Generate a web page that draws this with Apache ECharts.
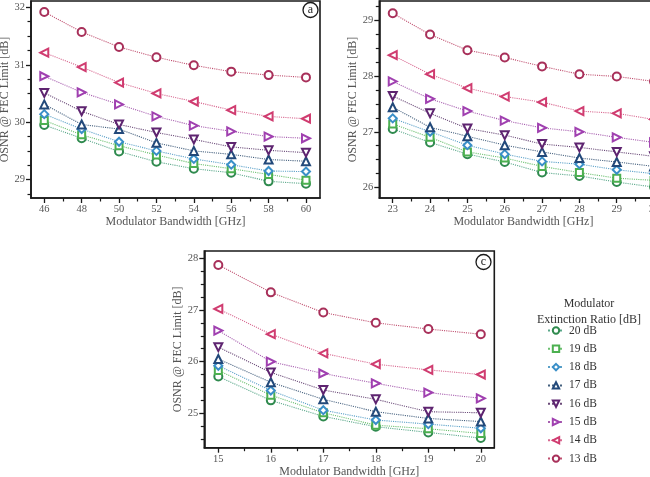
<!DOCTYPE html>
<html><head><meta charset="utf-8">
<script src="https://cdn.jsdelivr.net/npm/echarts@6/dist/echarts.min.js"></script>
<style>html,body{margin:0;padding:0;background:#fff}#c{width:650px;height:477px}</style>
</head><body><div id="c"></div>
<script>
// Legend / series names (Modulator extinction ratio)
const ratioNames = ['20 dB','19 dB','18 dB','17 dB','16 dB','15 dB','14 dB','13 dB'];

// Modulator bandwidth [GHz] per panel
const bwA = [46,48,50,52,54,56,58,60];
const bwB = [23,24,25,26,27,28,29,30];
const bwC = [15,16,17,18,19,20];

// Panel (a): OSNR @ FEC limit [dB]
const osnrA_20 = [29.95,29.72,29.49,29.31,29.19,29.12,28.97,28.93];
const osnrA_19 = [30.03,29.78,29.59,29.43,29.28,29.19,29.09,28.99];
const osnrA_18 = [30.14,29.88,29.66,29.50,29.36,29.26,29.15,29.14];
const osnrA_17 = [30.31,29.96,29.88,29.64,29.50,29.44,29.35,29.32];
const osnrA_16 = [30.51,30.19,29.96,29.82,29.70,29.57,29.51,29.47];
const osnrA_15 = [30.80,30.52,30.31,30.10,29.94,29.84,29.75,29.72];
const osnrA_14 = [31.21,30.96,30.69,30.50,30.36,30.21,30.10,30.06];
const osnrA_13 = [31.92,31.57,31.31,31.13,30.99,30.88,30.82,30.78];

// Panel (b)
const osnrB_20 = [27.05,26.81,26.60,26.46,26.27,26.21,26.10,26.01];
const osnrB_19 = [27.14,26.90,26.64,26.53,26.38,26.27,26.17,26.13];
const osnrB_18 = [27.24,27.00,26.76,26.60,26.47,26.42,26.32,26.25];
const osnrB_17 = [27.44,27.08,26.92,26.76,26.64,26.53,26.46,26.38];
const osnrB_16 = [27.64,27.33,27.06,26.94,26.78,26.72,26.64,26.56];
const osnrB_15 = [27.90,27.59,27.37,27.20,27.07,27.00,26.90,26.81];
const osnrB_14 = [28.37,28.03,27.78,27.63,27.53,27.37,27.33,27.22];
const osnrB_13 = [29.12,28.74,28.46,28.33,28.17,28.03,27.99,27.90];

// Panel (c)
const osnrC_20 = [25.71,25.25,24.94,24.74,24.63,24.52];
const osnrC_19 = [25.83,25.35,25.01,24.77,24.70,24.61];
const osnrC_18 = [25.92,25.44,25.06,24.87,24.79,24.71];
const osnrC_17 = [26.05,25.60,25.27,25.03,24.90,24.84];
const osnrC_16 = [26.28,25.79,25.45,25.27,25.03,25.01];
const osnrC_15 = [26.60,26.00,25.77,25.58,25.40,25.29];
const osnrC_14 = [27.02,26.53,26.16,25.95,25.84,25.75];
const osnrC_13 = [27.87,27.34,26.95,26.75,26.63,26.53];

// Tick labels
const ticksAX = [46,48,50,52,54,56,58,60];
const minorAX = [47,49,51,53,55,57,59];
const ticksAY = [29,30,31,32];
const minorAY = [28.75,29.25,29.5,29.75,30.25,30.5,30.75,31.25,31.5,31.75];
const ticksBX = [23,24,25,26,27,28,29,30];
const minorBX = [23.5,24.5,25.5,26.5,27.5,28.5,29.5];
const ticksBY = [26,27,28,29];
const minorBY = [26.25,26.5,26.75,27.25,27.5,27.75,28.25,28.5,28.75,29.25];
const ticksCX = [15,16,17,18,19,20];
const minorCX = [15.5,16.5,17.5,18.5,19.5];
const ticksCY = [25,26,27,28];
const minorCY = [24.5,24.75,25.25,25.5,25.75,26.25,26.5,26.75,27.25,27.5,27.75];

const panelA = [osnrA_20,osnrA_19,osnrA_18,osnrA_17,osnrA_16,osnrA_15,osnrA_14,osnrA_13];
const panelB = [osnrB_20,osnrB_19,osnrB_18,osnrB_17,osnrB_16,osnrB_15,osnrB_14,osnrB_13];
const panelC = [osnrC_20,osnrC_19,osnrC_18,osnrC_17,osnrC_16,osnrC_15,osnrC_14,osnrC_13];

const FONT = '"Liberation Serif","DejaVu Serif",serif';
const markerColors = ['#2f8a4e','#4cb050','#3a8fc8','#22497a','#5e2470','#a040b0','#d03c70','#a8305a'];
const lineColors   = ['#5aa88a','#6cc070','#5aa0c8','#45607e','#6a4a78','#a860b0','#d86890','#c05070'];
const symbols = ['emptyCircle','emptyRect','emptyDiamond','emptyTriangle','emptyTriangle','emptyTriangle','emptyTriangle','emptyCircle'];
const rotations = [0,0,0,0,180,-90,90,0];
const symSizes = [8,7,8,8,8,8,8,8];

const grids = [
  {left:31, top:1, width:289, height:197},
  {left:379.3, top:1, width:288.2, height:197},
  {left:204.3, top:251, width:290, height:196.7}
].map(g => Object.assign({show:true, borderColor:'#1a1a1a', borderWidth:1.6, backgroundColor:'transparent',
  containLabel:false, outerBoundsMode:'none'}, g));

const ranges = [
  {x:[45.29,60.75], y:[28.68,32.11], tx:ticksAX, mx:minorAX, ty:ticksAY, my:minorAY, bw:bwA, data:panelA},
  {x:[22.64,30.36], y:[25.815,29.34], tx:ticksBX, mx:minorBX, ty:ticksBY, my:minorBY, bw:bwB, data:panelB},
  {x:[14.733,20.257], y:[24.334,28.14], tx:ticksCX, mx:minorCX, ty:ticksCY, my:minorCY, bw:bwC, data:panelC}
];

const xAxes = [], yAxes = [], series = [];
ranges.forEach((r, gi) => {
  const xi = xAxes.length, yi = yAxes.length;
  xAxes.push({
    type:'value', gridIndex:gi, min:r.x[0], max:r.x[1], position:'bottom',
    axisLine:{show:true, onZero:false, lineStyle:{color:'#1a1a1a', width:1.6}},
    axisTick:{show:true, inside:false, length:5, customValues:r.tx, lineStyle:{color:'#1a1a1a', width:1.3}},
    axisLabel:{customValues:r.tx, margin:6, fontFamily:FONT, fontSize:10.5, color:'#555'},
    splitLine:{show:false},
    name:'Modulator Bandwidth [GHz]', nameLocation:'middle', nameGap:16,
    nameTextStyle:{fontFamily:FONT, fontSize:12, color:'#555'}
  });
  xAxes.push({
    type:'value', gridIndex:gi, min:r.x[0], max:r.x[1], position:'bottom',
    axisLine:{show:false, onZero:false},
    axisTick:{show:true, inside:false, length:3.5, customValues:r.mx, lineStyle:{color:'#1a1a1a', width:1.2}},
    axisLabel:{show:false, customValues:r.mx}, splitLine:{show:false}
  });
  yAxes.push({
    type:'value', gridIndex:gi, min:r.y[0], max:r.y[1], position:'left',
    axisLine:{show:true, onZero:false, lineStyle:{color:'#1a1a1a', width:1.6}},
    axisTick:{show:true, inside:false, length:5, customValues:r.ty, lineStyle:{color:'#1a1a1a', width:1.3}},
    axisLabel:{customValues:r.ty, margin:6, fontFamily:FONT, fontSize:10.5, color:'#555'},
    splitLine:{show:false},
    name:'OSNR @ FEC Limit [dB]', nameLocation:'middle', nameGap:17, nameRotate:90,
    nameTextStyle:{fontFamily:FONT, fontSize:12, color:'#555'}
  });
  yAxes.push({
    type:'value', gridIndex:gi, min:r.y[0], max:r.y[1], position:'left',
    axisLine:{show:false, onZero:false},
    axisTick:{show:true, inside:false, length:3.5, customValues:r.my, lineStyle:{color:'#1a1a1a', width:1.2}},
    axisLabel:{show:false, customValues:r.my}, splitLine:{show:false}
  });
  r.data.forEach((vals, si) => {
    series.push({
      type:'line', name:ratioNames[si], xAxisIndex:xi, yAxisIndex:yi,
      data:r.bw.map((b,k) => [b, vals[k]]),
      symbol:symbols[si], symbolRotate:rotations[si], symbolSize:symSizes[si],
      showAllSymbol:true, clip:true, silent:true, animation:false,
      lineStyle:{type:'dotted', width:1.1, color:lineColors[si]},
      itemStyle:{color:markerColors[si], borderWidth:1.3},
      z: 2 + si
    });
  });
});

function circLabel(cx, cy, t) {
  return {type:'group', children:[
    {type:'circle', shape:{cx:cx, cy:cy, r:7.5}, style:{fill:'#fff', stroke:'#1a1a1a', lineWidth:1.3}, z:50},
    {type:'text', x:cx, y:cy, style:{text:t, fontFamily:FONT, fontSize:12, fill:'#222', align:'center', verticalAlign:'middle'}, z:51}
  ]};
}

const chart = echarts.init(document.getElementById('c'), null, {renderer:'canvas'});
chart.setOption({
  animation:false,
  backgroundColor:'#fff',
  grid:grids,
  xAxis:xAxes,
  yAxis:yAxes,
  series:series,
  title:{text:'Modulator\nExtinction Ratio [dB]', left:584, top:291, textAlign:'center',
    textStyle:{fontFamily:FONT, fontSize:12, fontWeight:'normal', color:'#333', lineHeight:16}},
  legend:{data:ratioNames, orient:'vertical', left:547, top:324.5, padding:0,
    itemWidth:16, itemHeight:8, itemGap:6.3,
    textStyle:{fontFamily:FONT, fontSize:11.5, color:'#333'}},
  graphic:[circLabel(310.5, 10, 'a'), circLabel(483.5, 262, 'c')]
});
</script></body></html>
